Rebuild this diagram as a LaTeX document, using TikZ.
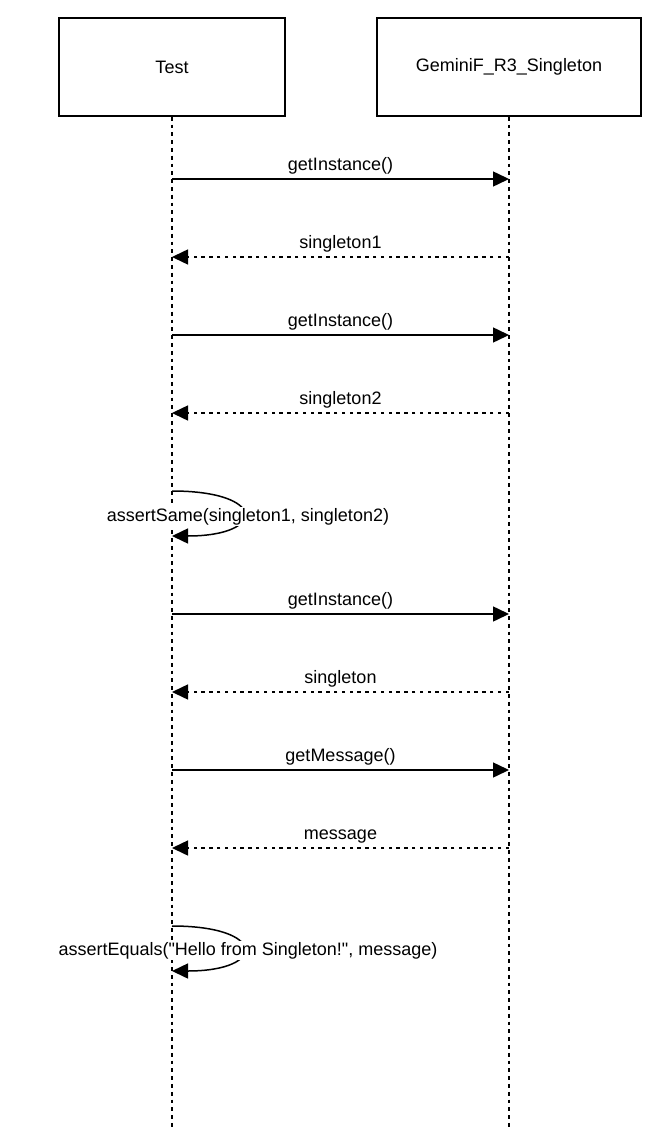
\documentclass[tikz,border=0pt]{standalone}
\usepackage{fontspec}
\newfontfamily\diagfont{Liberation Sans}
\usetikzlibrary{arrows.meta}
\tikzset{
  x=1pt, y=-1pt,
  every node/.style={font=\diagfont\fontsize{18}{21.6}\selectfont},
  actorbox/.style={draw=black, line width=1.5pt, fill=white, minimum height=98pt, inner sep=0pt},
  lifeline/.style={line width=1.5pt, dash pattern=on 3.8pt off 4pt},
  msg/.style={line width=1.5pt, -{Triangle[length=16pt, width=15pt]}},
  ret/.style={msg, dash pattern=on 3.5pt off 4.3pt},
  lbl/.style={anchor=base, yshift=8.5pt, inner sep=0pt},
  looplbl/.style={fill=white, inner sep=1pt, anchor=base}
}
\begin{document}
\begin{tikzpicture}
\useasboundingbox (0,0) rectangle (664,1147);
% actors
\node[actorbox, minimum width=226pt] (test) at (172,67) {Test};
\node[actorbox, minimum width=264pt] (gem) at (509,67) {GeminiF\_R3\_Singleton};
\coordinate (testend) at (172,1127);
\coordinate (gemend) at (509,1127);
\draw[lifeline] (test.south) -- (testend);
\draw[lifeline] (gem.south) -- (gemend);
% message anchor points
\foreach \n/\y in {1/179,2/257,3/335,4/413,5/491,6/536,7/614,8/692,9/770,10/848,11/926,12/971}{
  \coordinate (t\n) at (172,\y);
  \coordinate (g\n) at (509,\y);
}
\draw[msg] (t1) -- node[lbl]{getInstance()} (g1);
\draw[ret] (g2) -- node[lbl]{singleton1} (t2);
\draw[msg] (t3) -- node[lbl]{getInstance()} (g3);
\draw[ret] (g4) -- node[lbl]{singleton2} (t4);
\draw[msg] (t5) .. controls (267,491) and (267,536) .. (t6);
\node[looplbl] (same) at (248,521) {assertSame(singleton1, singleton2)};
\draw[msg] (t7) -- node[lbl]{getInstance()} (g7);
\draw[ret] (g8) -- node[lbl]{singleton} (t8);
\draw[msg] (t9) -- node[lbl]{getMessage()} (g9);
\draw[ret] (g10) -- node[lbl]{message} (t10);
\draw[msg] (t11) .. controls (267,926) and (267,971) .. (t12);
\node[looplbl] (equals) at (248,955) {assertEquals("Hello from Singleton!", message)};
\end{tikzpicture}
\end{document}
